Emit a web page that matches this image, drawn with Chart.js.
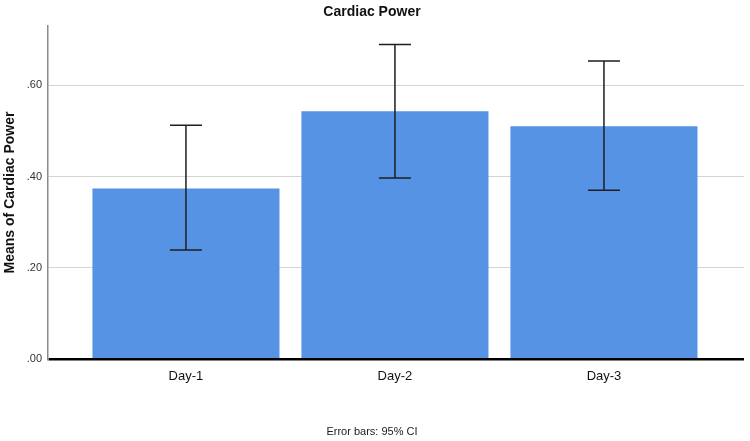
<!DOCTYPE html>
<html>
<head>
<meta charset="utf-8">
<script src="https://cdn.jsdelivr.net/npm/chart.js@4.4.1/dist/chart.umd.min.js"></script>
<style>
  html, body { margin: 0; padding: 0; background: #fff; }
  #wrap { width: 750px; height: 441px; }
</style>
</head>
<body>
<div id="wrap"><canvas id="chart"></canvas></div>
<script>
// values
const days = ['Day-1', 'Day-2', 'Day-3'];
const means = [0.374, 0.543, 0.510];
const ciLower = [0.239, 0.397, 0.370];
const ciUpper = [0.512, 0.689, 0.653];
const yTicks = [0, 0.2, 0.4, 0.6];

const FONT = "'Liberation Sans', Arial, sans-serif";

// draws the 95% CI whiskers using the chart's own scales
const errorBars = {
  id: 'errorBars',
  afterDatasetsDraw(chart) {
    const { ctx, scales: { y } } = chart;
    const meta = chart.getDatasetMeta(0);
    ctx.save();
    ctx.strokeStyle = '#1f1f1f';
    ctx.lineWidth = 1.5;
    meta.data.forEach((bar, i) => {
      const top = y.getPixelForValue(ciUpper[i]);
      const bottom = y.getPixelForValue(ciLower[i]);
      const cap = 16;
      ctx.beginPath();
      ctx.moveTo(bar.x, top);
      ctx.lineTo(bar.x, bottom);
      ctx.moveTo(bar.x - cap, top);
      ctx.lineTo(bar.x + cap, top);
      ctx.moveTo(bar.x - cap, bottom);
      ctx.lineTo(bar.x + cap, bottom);
      ctx.stroke();
    });
    ctx.restore();
  }
};

new Chart(document.getElementById('chart'), {
  type: 'bar',
  data: {
    datasets: [{
      data: means.map((v, i) => ({ x: i, y: v })),
      backgroundColor: '#5693e4',
      borderWidth: 0,
      categoryPercentage: 1,
      barPercentage: 0.895
    }]
  },
  options: {
    responsive: true,
    maintainAspectRatio: false,
    animation: false,
    layout: { padding: { left: 0, right: 6, top: 0, bottom: 0 } },
    plugins: {
      legend: { display: false },
      tooltip: { enabled: false },
      title: {
        display: true,
        text: 'Cardiac Power',
        color: '#111',
        font: { family: FONT, size: 14, weight: 'bold' },
        padding: { top: 4, bottom: 5 }
      },
      subtitle: {
        display: true,
        position: 'bottom',
        text: 'Error bars: 95% CI',
        color: '#222',
        font: { family: FONT, size: 11 },
        padding: { top: 33, bottom: 2 }
      }
    },
    scales: {
      x: {
        type: 'linear',
        offset: false,
        min: -0.66,
        max: 2.67,
        grid: { display: false, drawTicks: false },
        border: { display: false },
        ticks: {
          stepSize: 1,
          includeBounds: false,
          padding: 9,
          color: '#111',
          font: { family: FONT, size: 13 },
          callback: v => days[v] ?? ''
        }
      },
      y: {
        min: 0,
        max: 0.73,
        afterFit: scale => { scale.width = 48; },
        afterBuildTicks: scale => { scale.ticks = yTicks.map(v => ({ value: v })); },
        border: { display: true, color: '#8a8a8a', width: 1.5 },
        grid: {
          drawTicks: false,
          color: ctx => ctx.tick && ctx.tick.value === 0 ? '#000' : '#d4d4d4',
          lineWidth: ctx => ctx.tick && ctx.tick.value === 0 ? 2.5 : 1
        },
        ticks: {
          padding: 6,
          color: '#333',
          font: { family: FONT, size: 11 },
          callback: v => v.toFixed(2).replace(/^0/, '')
        },
        title: {
          display: true,
          text: 'Means of Cardiac Power',
          color: '#111',
          font: { family: FONT, size: 14, weight: 'bold' },
          padding: { top: 2, bottom: 0 }
        }
      }
    }
  },
  plugins: [errorBars]
});
</script>
</body>
</html>
